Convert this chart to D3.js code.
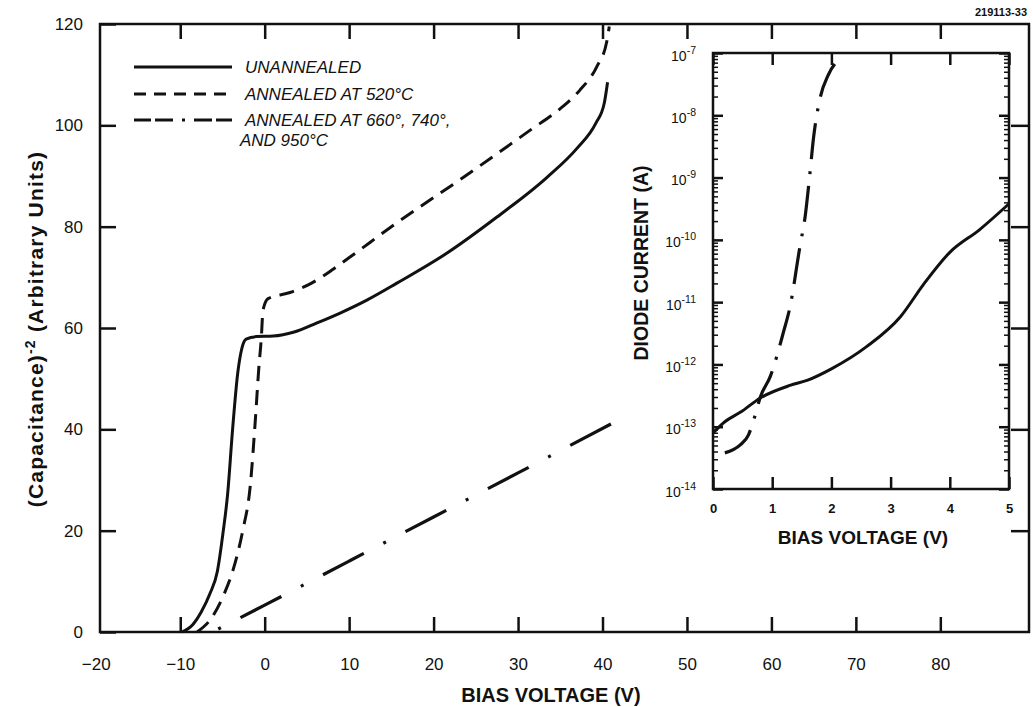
<!DOCTYPE html>
<html>
<head>
<meta charset="utf-8">
<script src="https://cdn.jsdelivr.net/npm/d3@7"></script>
<style>
  body { margin: 0; background: #fff; }
  svg { font-family: "Liberation Sans", Arial, sans-serif; }
</style>
</head>
<body>
<script>
// main plot: (capacitance)^-2 vs bias voltage
var xTicks = [-20, -10, 0, 10, 20, 30, 40, 50, 60, 70, 80];
var yTicks = [0, 20, 40, 60, 80, 100, 120];

var unannealed = [[-9.8, 0], [-8.5, 1.5], [-7.5, 4], [-6.5, 7.5], [-5.6, 12], [-4.9, 20], [-4.4, 27],
  [-3.8, 40], [-3.2, 51], [-2.7, 56], [-2.2, 57.8], [-1, 58.3], [1, 58.4], [3.5, 59.2], [6.2, 61],
  [9, 63], [12.1, 65.5], [15.6, 68.8], [21.6, 74.8], [27.5, 81.9], [33.4, 89.7], [37, 95.5],
  [39.2, 100.4], [40.2, 104.3], [40.6, 108.5]];
var annealed520 = [[-8, 0], [-6.2, 3], [-4.8, 7.5], [-3.7, 12.5], [-2.6, 20], [-1.7, 29], [-1.1, 42],
  [-0.7, 52], [-0.4, 58], [-0.2, 63.5], [0.4, 65.8], [3, 67], [5.5, 68.8], [8.1, 71.6], [10.1, 74],
  [15.6, 80.7], [23.5, 89.7], [31.4, 99], [35, 103.3], [37.3, 106.9], [39.3, 111.5], [40.5, 116.5],
  [40.8, 119.5]];
var annealedHigh = [[-5.5, 0.6], [0, 5.3], [10, 14], [20, 22.7], [30, 31.4], [41.5, 41.5]];

// inset: diode current vs bias voltage
var insetXTicks = [0, 1, 2, 3, 4, 5];
var insetYExp = [-14, -13, -12, -11, -10, -9, -8, -7];
var insetUnannealed = [[0, 7.9e-14], [0.2, 1.2e-13], [0.46, 1.7e-13], [0.8, 2.9e-13], [1.3, 4.6e-13],
  [1.6, 5.6e-13], [2.0, 8.5e-13], [2.6, 1.95e-12], [3.17, 5.9e-12], [3.56, 1.95e-11],
  [4.0, 6.3e-11], [4.5, 1.45e-10], [5, 3.8e-10]];
var insetAnnealed = [[0.2, 3.8e-14], [0.46, 5.1e-14], [0.6, 7.4e-14], [0.7, 1.4e-13], [0.8, 3.0e-13],
  [0.97, 6.5e-13], [1.19, 3.3e-12], [1.3, 8.3e-12], [1.47, 8e-11], [1.56, 2.5e-10], [1.63, 1e-9],
  [1.7, 4.5e-9], [1.81, 1.9e-8], [1.95, 4.5e-8], [2.15, 8.3e-8]];

var svg = d3.select("body").append("svg")
  .attr("width", 1033)
  .attr("height", 707);

var x = d3.scaleLinear().domain([-19.5, 90.5]).range([100, 1029]);
var y = d3.scaleLinear().domain([0, 120]).range([632, 24]);

function styleAxis(g) {
  g.select(".domain").remove();
  g.selectAll(".tick line").attr("stroke", "#111").attr("stroke-width", 2.5);
  g.selectAll("text").attr("fill", "#111");
}

// bottom axis with labels
svg.append("g")
  .attr("transform", "translate(0,632)")
  .call(d3.axisBottom(x).tickValues(xTicks).tickSize(-15).tickPadding(26))
  .call(styleAxis)
  .call(g => g.selectAll(".tick").filter(d => d === -20).select("line").remove())
  .selectAll("text").attr("font-size", 17);

svg.append("g")
  .attr("transform", "translate(0,24)")
  .call(d3.axisTop(x).tickValues(xTicks.slice(1)).tickSize(-15).tickFormat(""))
  .call(styleAxis);

svg.append("g")
  .attr("transform", "translate(100,0)")
  .call(d3.axisLeft(y).tickValues(yTicks).tickSize(-16).tickPadding(17))
  .call(styleAxis)
  .selectAll("text").attr("font-size", 17);

svg.append("g")
  .attr("transform", "translate(1029,0)")
  .call(d3.axisRight(y).tickValues(yTicks.slice(1, -1)).tickSize(-18).tickFormat(""))
  .call(styleAxis);

svg.append("rect")
  .attr("x", 100).attr("y", 24)
  .attr("width", 929).attr("height", 608)
  .attr("fill", "none").attr("stroke", "#111").attr("stroke-width", 2.5);

var line = d3.line().x(d => x(d[0])).y(d => y(d[1])).curve(d3.curveMonotoneX);

svg.append("path").datum(annealedHigh)
  .attr("d", line).attr("fill", "none").attr("stroke", "#111").attr("stroke-width", 3.2)
  .attr("stroke-dasharray", "3,22,46,22");
svg.append("path").datum(annealed520)
  .attr("d", line).attr("fill", "none").attr("stroke", "#111").attr("stroke-width", 3)
  .attr("stroke-dasharray", "15,9");
svg.append("path").datum(unannealed)
  .attr("d", line).attr("fill", "none").attr("stroke", "#111").attr("stroke-width", 3);

// axis titles
svg.append("text")
  .attr("x", 551).attr("y", 702)
  .attr("text-anchor", "middle")
  .attr("font-size", 20).attr("font-weight", "bold").attr("fill", "#111")
  .text("BIAS VOLTAGE (V)");

var yTitle = svg.append("text")
  .attr("transform", "translate(43,329) rotate(-90)")
  .attr("text-anchor", "middle")
  .attr("font-size", 21).attr("font-weight", "bold").attr("fill", "#111")
  .attr("letter-spacing", 1.2);
yTitle.append("tspan").text("(Capacitance)");
yTitle.append("tspan").attr("dy", -8).attr("font-size", 14).text("-2");
yTitle.append("tspan").attr("dy", 8).text(" (Arbitrary Units)");

svg.append("text")
  .attr("x", 1027).attr("y", 16)
  .attr("text-anchor", "end")
  .attr("font-size", 11).attr("font-weight", "bold").attr("fill", "#111")
  .text("219113-33");

// legend
var legendRows = [
  {y: 67, dash: null, label: "UNANNEALED", ty: 73},
  {y: 94, dash: "12,8", label: "ANNEALED AT 520°C", ty: 100},
  {y: 120, dash: "17,4,18,9,3,9,18,4,16", label: "ANNEALED AT 660°, 740°,", ty: 126}
];
legendRows.forEach(function(r) {
  svg.append("line")
    .attr("x1", 134).attr("x2", 232).attr("y1", r.y).attr("y2", r.y)
    .attr("stroke", "#111").attr("stroke-width", 3)
    .attr("stroke-dasharray", r.dash);
  svg.append("text")
    .attr("x", 245).attr("y", r.ty)
    .attr("font-size", 17).attr("font-style", "italic").attr("fill", "#111")
    .text(r.label);
});
svg.append("text")
  .attr("x", 240).attr("y", 146)
  .attr("font-size", 17).attr("font-style", "italic").attr("fill", "#111")
  .text("AND 950°C");

// inset
var xi = d3.scaleLinear().domain([0, 5]).range([713, 1009]);
var yi = d3.scaleLog().domain([1e-14, 1e-7]).range([489, 53]);

svg.append("rect")
  .attr("x", 713).attr("y", 53)
  .attr("width", 296).attr("height", 436)
  .attr("fill", "#fff");

var minorTicks = [];
insetYExp.slice(0, -1).forEach(function(e) {
  for (var k = 2; k <= 9; k++) minorTicks.push(k * Math.pow(10, e));
});
var majorTicks = insetYExp.map(e => Math.pow(10, e));

svg.append("g")
  .attr("transform", "translate(713,0)")
  .call(d3.axisLeft(yi).tickValues(minorTicks).tickSize(-5).tickFormat(""))
  .call(styleAxis)
  .selectAll(".tick line").attr("stroke-width", 1.5);
svg.append("g")
  .attr("transform", "translate(1009,0)")
  .call(d3.axisRight(yi).tickValues(minorTicks).tickSize(-5).tickFormat(""))
  .call(styleAxis)
  .selectAll(".tick line").attr("stroke-width", 1.5);

var insetLeft = svg.append("g")
  .attr("transform", "translate(713,0)")
  .call(d3.axisLeft(yi).tickValues(majorTicks).tickSize(-10).tickPadding(17).tickFormat(""))
  .call(styleAxis);
insetLeft.selectAll(".tick text")
  .attr("font-size", 14).attr("dy", null).attr("y", 7)
  .each(function(d) {
    var t = d3.select(this);
    t.append("tspan").text("10");
    t.append("tspan").attr("dy", -7).attr("font-size", 10.5)
      .text("-" + Math.round(-Math.log10(d)));
  });
svg.append("g")
  .attr("transform", "translate(1009,0)")
  .call(d3.axisRight(yi).tickValues(majorTicks).tickSize(-10).tickFormat(""))
  .call(styleAxis);

svg.append("g")
  .attr("transform", "translate(0,489)")
  .call(d3.axisBottom(xi).tickValues(insetXTicks).tickSize(-12).tickPadding(15).tickFormat(d3.format("d")))
  .call(styleAxis)
  .selectAll("text").attr("font-size", 13).attr("font-weight", "bold");
svg.append("g")
  .attr("transform", "translate(0,53)")
  .call(d3.axisTop(xi).tickValues(insetXTicks).tickSize(-12).tickFormat(""))
  .call(styleAxis);

svg.append("rect")
  .attr("x", 713).attr("y", 53)
  .attr("width", 296).attr("height", 436)
  .attr("fill", "none").attr("stroke", "#111").attr("stroke-width", 2.5);

var insetLine = d3.line().x(d => xi(d[0])).y(d => yi(d[1])).curve(d3.curveMonotoneX);

svg.append("path").datum(insetAnnealed)
  .attr("d", insetLine).attr("fill", "none").attr("stroke", "#111").attr("stroke-width", 3.2)
  .attr("stroke-dasharray", "36,12,3,12");
svg.append("path").datum(insetUnannealed)
  .attr("d", insetLine).attr("fill", "none").attr("stroke", "#111").attr("stroke-width", 3);

svg.append("text")
  .attr("x", 863).attr("y", 544)
  .attr("text-anchor", "middle")
  .attr("font-size", 19).attr("font-weight", "bold").attr("fill", "#111")
  .text("BIAS VOLTAGE (V)");

svg.append("text")
  .attr("transform", "translate(648,263) rotate(-90)")
  .attr("text-anchor", "middle")
  .attr("font-size", 19.5).attr("font-weight", "bold").attr("fill", "#111")
  .text("DIODE CURRENT (A)");
</script>
</body>
</html>
